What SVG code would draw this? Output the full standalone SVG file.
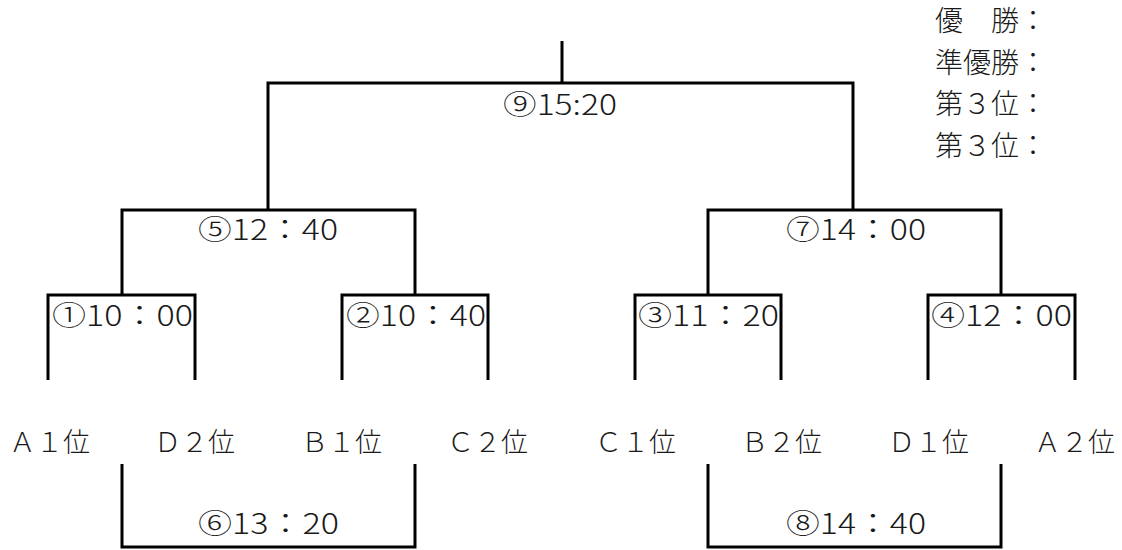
<svg xmlns="http://www.w3.org/2000/svg" width="1122" height="550" viewBox="0 0 1122 550">
<style>
  .ln { fill: none; stroke: #000; stroke-width: 3; stroke-linecap: butt; stroke-linejoin: miter; }
  .t { font-family: "Noto Sans CJK JP", "Noto Sans", sans-serif; font-weight: 300; fill: #1a1a1a; }
  .tm { font-size: 28px; }
  .tn { font-size: 27px; }
  .lg { font-size: 28px; }
</style>
<rect width="1122" height="550" fill="#fff"/>
<g id="connectors">
  <path class="ln" d="M562,41 V83"/>
  <path class="ln" d="M268,210 V83 H853 V210"/>
  <path class="ln" d="M122,295 V210 H415 V295"/>
  <path class="ln" d="M708,295 V210 H1001 V295"/>
  <path class="ln" d="M48,380 V295 H195 V380"/>
  <path class="ln" d="M342,380 V295 H488 V380"/>
  <path class="ln" d="M635,380 V295 H781 V380"/>
  <path class="ln" d="M928,380 V295 H1075 V380"/>
  <path class="ln" d="M122,464 V547 H415 V464"/>
  <path class="ln" d="M708,464 V547 H1001 V464"/>
</g>
<g id="match9"><text class="t tm" x="503" y="115" textLength="114" lengthAdjust="spacingAndGlyphs">⑨15:20</text></g>
<g id="match5"><text class="t tm" x="198" y="240" textLength="140" lengthAdjust="spacingAndGlyphs">⑤12：40</text></g>
<g id="match7"><text class="t tm" x="786" y="240" textLength="140" lengthAdjust="spacingAndGlyphs">⑦14：00</text></g>
<g id="match1"><text class="t tm" x="52" y="326" textLength="141" lengthAdjust="spacingAndGlyphs">①10：00</text></g>
<g id="match2"><text class="t tm" x="346" y="326" textLength="140" lengthAdjust="spacingAndGlyphs">②10：40</text></g>
<g id="match3"><text class="t tm" x="638" y="326" textLength="141" lengthAdjust="spacingAndGlyphs">③11：20</text></g>
<g id="match4"><text class="t tm" x="931" y="326" textLength="141" lengthAdjust="spacingAndGlyphs">④12：00</text></g>
<g id="match6"><text class="t tm" x="198" y="534" textLength="141" lengthAdjust="spacingAndGlyphs">⑥13：20</text></g>
<g id="match8"><text class="t tm" x="786" y="534" textLength="140" lengthAdjust="spacingAndGlyphs">⑧14：40</text></g>
<g id="teamA1"><text class="t tn" x="9" y="452">Ａ１位</text></g>
<g id="teamD2"><text class="t tn" x="154" y="452">Ｄ２位</text></g>
<g id="teamB1"><text class="t tn" x="301" y="452">Ｂ１位</text></g>
<g id="teamC2"><text class="t tn" x="447" y="452">Ｃ２位</text></g>
<g id="teamC1"><text class="t tn" x="595" y="452">Ｃ１位</text></g>
<g id="teamB2"><text class="t tn" x="741" y="452">Ｂ２位</text></g>
<g id="teamD1"><text class="t tn" x="888" y="452">Ｄ１位</text></g>
<g id="teamA2"><text class="t tn" x="1034" y="452">Ａ２位</text></g>
<g id="legend">
  <text class="t lg" x="935" y="31">優　勝：</text>
  <text class="t lg" x="935" y="73">準優勝：</text>
  <text class="t lg" x="935" y="114">第３位：</text>
  <text class="t lg" x="935" y="156">第３位：</text>
</g>
</svg>
